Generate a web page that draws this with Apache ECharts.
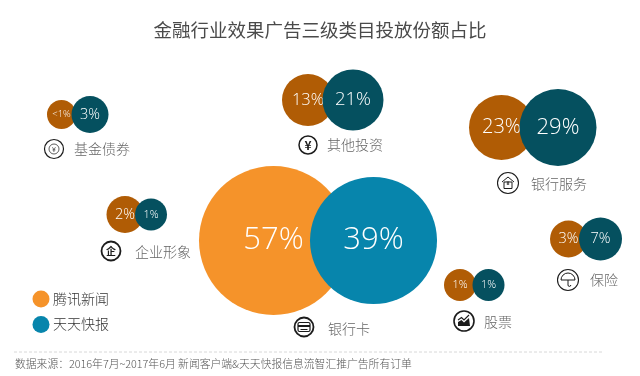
<!DOCTYPE html>
<html>
<head>
<meta charset="utf-8">
<style>
html, body { margin: 0; padding: 0; background: #fff; }
#chart { width: 640px; height: 376px; }
</style>
<script src="https://cdn.jsdelivr.net/npm/echarts@6/dist/echarts.min.js"></script>
</head>
<body>
<div id="chart"></div>
<script>
const categories = ['基金债券', '其他投资', '银行服务', '企业形象', '银行卡', '股票', '保险']
const tencentValues = [0.5, 13, 23, 2, 57, 1, 3]
const tiantianValues = [3, 21, 29, 1, 39, 1, 7]
const seriesNames = ['腾讯新闻', '天天快报']

// 气泡直径不是严格按数值算的，按图上量的
const bubbleSize = { 0.5: 29, 1: 32, 2: 37, 3: 37, 7: 43, 13: 52, 21: 61, 23: 65, 29: 77, 39: 127, 57: 149 }

// 每组气泡在隐藏坐标轴上的位置
const tencentX = [61.5, 308, 501.5, 125, 273.5, 460, 568.5]
const tiantianX = [90, 353, 558, 151, 373.5, 488.5, 600.5]
const groupY = [114.5, 100, 127.5, 214.5, 240.5, 285, 239]
const iconPos = [[54, 149], [308, 145], [508, 183], [111, 251], [304, 327], [464, 321], [568, 280]]
const labelPos = [[74, 149], [327, 145], [531, 184], [135, 252], [328, 329], [484, 322], [590, 280]]

const FONT = '"Noto Sans CJK SC", "Noto Sans", sans-serif'
const NUM_FONT = '"Open Sans", "Noto Sans", sans-serif'

const valueLabel = (v) => (v < 1 ? '<1%' : v + '%')
const labelSize = (v) => {
  if (v >= 39) return 31
  if (v >= 29) return 22
  if (v >= 23) return 20
  if (v >= 21) return 18.5
  if (v >= 13) return 16.5
  if (v >= 2) return 14.5
  if (v === 0.5) return 9.5
  return 11
}

// 银行卡那一组用亮色，和图例一致
const bubbleSeries = (name, xs, values, color, lightColor, z) => ({
  name,
  type: 'scatter',
  z,
  data: values.map((v, i) => ({
    value: [xs[i], groupY[i], v],
    symbolSize: bubbleSize[v],
    itemStyle: { color: categories[i] === '银行卡' ? lightColor : color, opacity: 1 },
    label: {
      show: true,
      position: 'inside',
      formatter: valueLabel(v),
      color: '#fff',
      fontFamily: NUM_FONT,
      fontWeight: 300,
      fontSize: labelSize(v),
    },
  })),
})

// 图标统一画在一个小 group 里，原点是圆心
const ring = (r, lw) => ({
  type: 'circle',
  shape: { cx: 0, cy: 0, r },
  style: { fill: '#fff', stroke: '#1c1c1c', lineWidth: lw },
})
const ln = (x1, y1, x2, y2, lw) => ({
  type: 'line',
  shape: { x1, y1, x2, y2 },
  style: { stroke: '#1c1c1c', lineWidth: lw || 1 },
})
const glyph = (text, size, weight) => ({
  type: 'text',
  style: { text, x: 0, y: 0, align: 'center', verticalAlign: 'middle', fontSize: size, fontWeight: weight || 700, fontFamily: FONT, fill: '#1c1c1c' },
})

const iconParts = [
  [ring(9.5, 1.2), { type: 'circle', shape: { cx: 0, cy: 0, r: 5 }, style: { fill: 'none', stroke: '#333', lineWidth: 0.8 } }, glyph('¥', 7, 400)],
  [ring(9, 1.5), glyph('¥', 12)],
  [ring(10.5, 1.1), { type: 'polyline', shape: { points: [[-6, -1], [0, -6], [6, -1]] }, style: { fill: 'none', stroke: '#1c1c1c', lineWidth: 1 } },
    { type: 'rect', shape: { x: -4, y: -1, width: 8, height: 6.5 }, style: { fill: 'none', stroke: '#1c1c1c', lineWidth: 1 } }, glyph('¥', 5, 700)],
  [ring(9.5, 1.8), glyph('企', 10)],
  [ring(9.5, 1.8), { type: 'rect', shape: { x: -6, y: -4.5, width: 12, height: 9, r: 1.5 }, style: { fill: 'none', stroke: '#1c1c1c', lineWidth: 1.2 } }, ln(-6, -1, 6, -1, 2), ln(-3.5, 2.5, 3.5, 2.5, 1)],
  [ring(10, 1.6), { type: 'polygon', shape: { points: [[-6, 5], [-6, 1], [-2.5, -1], [0, 1.5], [5, -3], [6, 5]] }, style: { fill: '#1c1c1c' } },
    { type: 'polyline', shape: { points: [[-6, -1], [-2.5, -3.5], [0, -1], [5, -6]] }, style: { fill: 'none', stroke: '#1c1c1c', lineWidth: 1.1 } }],
  [ring(10.5, 1.1), { type: 'arc', shape: { cx: 0, cy: 0, r: 7, startAngle: Math.PI, endAngle: 0, clockwise: true }, style: { fill: 'none', stroke: '#1c1c1c', lineWidth: 1 } },
    ln(-7, 0, 7, 0, 1), ln(0, 0, 0, 5, 1),
    { type: 'arc', shape: { cx: 1.4, cy: 5, r: 1.4, startAngle: Math.PI, endAngle: 0, clockwise: false }, style: { fill: 'none', stroke: '#1c1c1c', lineWidth: 1 } }],
]

const chart = echarts.init(document.getElementById('chart'), null, { renderer: 'canvas' })

const option = {
  animation: false,
  backgroundColor: '#fff',
  grid: { left: 0, right: 0, top: 0, bottom: 0 },
  xAxis: { type: 'value', min: 0, max: 640, show: false },
  yAxis: { type: 'value', min: 0, max: 376, inverse: true, show: false },
  series: [
    bubbleSeries(seriesNames[0], tencentX, tencentValues, '#b05c05', '#f5932a', 2),
    bubbleSeries(seriesNames[1], tiantianX, tiantianValues, '#05505f', '#0785ac', 3),
  ],
  graphic: [
    { type: 'text', style: { text: '金融行业效果广告三级类目投放份额占比', x: 320, y: 30, align: 'center', verticalAlign: 'middle', fontSize: 18.5, fontFamily: FONT, fontWeight: 400, fill: '#4a4a4a' } },
    // 图例
    { type: 'circle', shape: { cx: 41, cy: 299, r: 8.5 }, style: { fill: '#f5932a' } },
    { type: 'circle', shape: { cx: 41, cy: 324.5, r: 8.5 }, style: { fill: '#0785ac' } },
    { type: 'text', style: { text: seriesNames[0], x: 53, y: 299, verticalAlign: 'middle', fontSize: 14, fontFamily: FONT, fontWeight: 300, fill: '#333' } },
    { type: 'text', style: { text: seriesNames[1], x: 53, y: 324, verticalAlign: 'middle', fontSize: 14, fontFamily: FONT, fontWeight: 300, fill: '#333' } },
    // 底部来源
    { type: 'line', shape: { x1: 14, y1: 352, x2: 602, y2: 352 }, style: { stroke: '#d8d8d8', lineWidth: 1, lineDash: [3, 2] } },
    { type: 'text', style: { text: '数据来源：2016年7月~2017年6月 新闻客户端&天天快报信息流智汇推广告所有订单', x: 15, y: 364, verticalAlign: 'middle', fontSize: 10.8, fontFamily: FONT, fontWeight: 300, fill: '#555' } },
    ...categories.map((name, i) => ({ type: 'text', style: { text: name, x: labelPos[i][0], y: labelPos[i][1], verticalAlign: 'middle', fontSize: 14, fontFamily: FONT, fontWeight: 300, fill: '#666' } })),
    ...iconParts.map((children, i) => ({ type: 'group', x: iconPos[i][0], y: iconPos[i][1], children })),
  ],
}

option && chart.setOption(option)
</script>
</body>
</html>
